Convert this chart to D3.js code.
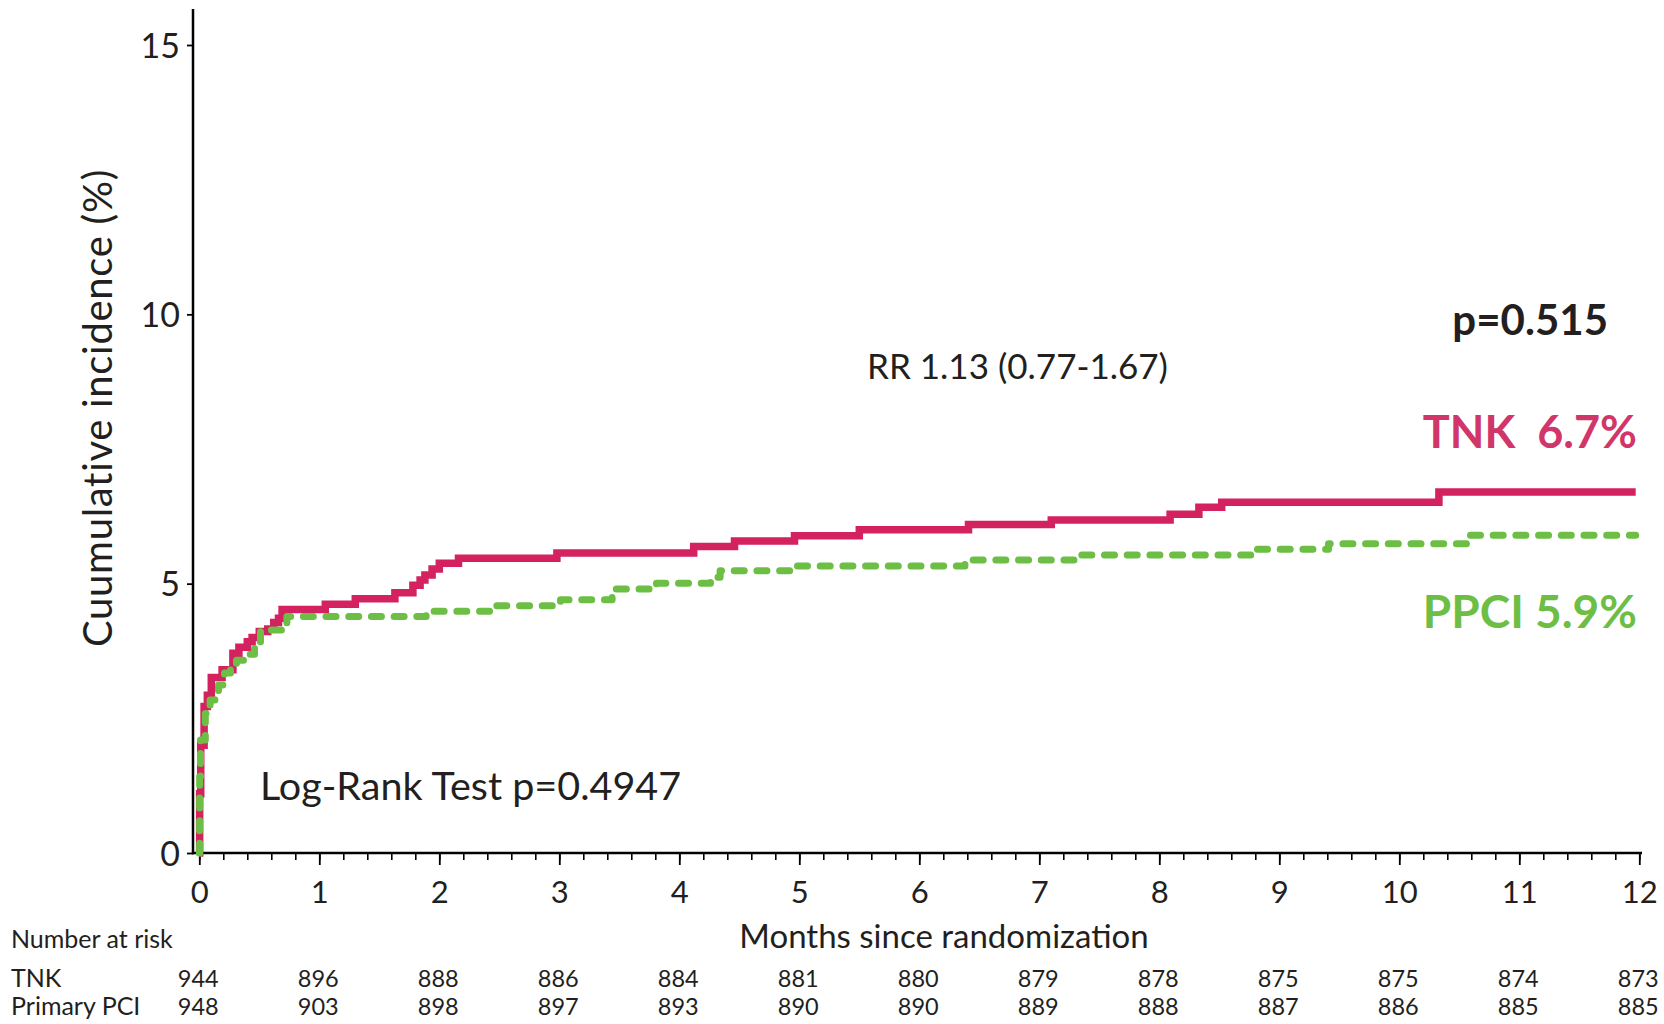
<!DOCTYPE html>
<html>
<head>
<meta charset="utf-8">
<script src="https://cdn.jsdelivr.net/npm/d3@7"></script>
<style>
  html, body { margin: 0; padding: 0; background: #fff; }
  svg { display: block; }
  text { font-family: Lato, "Open Sans", sans-serif; fill: #231f20; }
</style>
</head>
<body>
<svg id="chart" width="1664" height="1024"></svg>
<script>
// Kaplan-Meier style cumulative incidence (%), step changes at each event time (months)
const tnkTimes   = [0, 0.003, 0.012, 0.04, 0.067, 0.10, 0.19, 0.28, 0.33, 0.40, 0.44, 0.50, 0.57, 0.62, 0.66, 0.69,
                    1.05, 1.30, 1.63, 1.78, 1.84, 1.88, 1.94, 2.00, 2.16, 2.98, 4.12, 4.46, 4.96, 5.50, 6.41,
                    7.10, 8.09, 8.33, 8.52, 10.33, 11.97];
const tnkValues  = [0, 1.10, 2.00, 2.72, 2.93, 3.26, 3.40, 3.71, 3.82, 3.92, 4.00, 4.11, 4.16, 4.28, 4.36, 4.52,
                    4.62, 4.72, 4.83, 4.97, 5.07, 5.16, 5.27, 5.38, 5.47, 5.57, 5.69, 5.79, 5.89, 6.00, 6.10,
                    6.18, 6.29, 6.42, 6.51, 6.70, 6.70];

const ppciTimes  = [0, 0.003, 0.01, 0.05, 0.09, 0.13, 0.16, 0.21, 0.26, 0.31, 0.41, 0.46, 0.51, 0.73,
                    1.89, 2.44, 3.01, 3.44, 3.81, 4.26, 4.34, 4.94, 6.38, 7.30, 8.81, 9.41, 10.56, 11.97];
const ppciValues = [0, 1.42, 2.10, 2.59, 2.84, 2.97, 3.12, 3.34, 3.46, 3.58, 3.69, 3.90, 4.14, 4.39,
                    4.49, 4.59, 4.70, 4.90, 5.01, 5.12, 5.24, 5.33, 5.44, 5.53, 5.64, 5.74, 5.90, 5.90];

// Axis ticks
const monthTicks = [0, 1, 2, 3, 4, 5, 6, 7, 8, 9, 10, 11, 12];
const minorStep  = 0.2;
const yTicks     = [0, 5, 10, 15];

// Number at risk at each month tick
const riskTNK  = [944, 896, 888, 886, 884, 881, 880, 879, 878, 875, 875, 874, 873];
const riskPPCI = [948, 903, 898, 897, 893, 890, 890, 889, 888, 887, 886, 885, 885];

// Annotations
const rrText      = "RR 1.13 (0.77-1.67)";
const logRankText = "Log-Rank Test p=0.4947";
const pText       = "p=0.515";

const RED = "#d42160", RED_TXT = "#d1366a", GREEN = "#6dbe45";

const svg = d3.select("#chart");
const x = d3.scaleLinear().domain([0, 12]).range([199.3, 1639.3]);
const y = d3.scaleLinear().domain([0, 15]).range([853, 45]);

// ---- axes ----
const AX_X = 193;
svg.append("line").attr("x1", AX_X).attr("x2", AX_X).attr("y1", 9).attr("y2", 854.3)
  .attr("stroke", "#000").attr("stroke-width", 2.5);
svg.append("line").attr("x1", AX_X - 1.2).attr("x2", 1642).attr("y1", 853).attr("y2", 853)
  .attr("stroke", "#000").attr("stroke-width", 2.5);

const minorTicks = d3.range(0, 12 + 1e-9, minorStep);
const gMinor = svg.append("g").attr("transform", "translate(0,853)")
  .call(d3.axisBottom(x).tickValues(minorTicks).tickSize(7).tickSizeOuter(0).tickFormat(""));
gMinor.select(".domain").remove();
gMinor.selectAll("line").attr("stroke", "#000").attr("stroke-width", 1.6);

const gX = svg.append("g").attr("transform", "translate(0,853)")
  .call(d3.axisBottom(x).tickValues(monthTicks).tickSize(12).tickSizeOuter(0).tickFormat(d3.format("d")));
gX.select(".domain").remove();
gX.selectAll("line").attr("stroke", "#000").attr("stroke-width", 1.8);
gX.selectAll("text").attr("y", 50).attr("dy", 0)
  .style("font-size", "31px").style("fill", "#231f20").style("font-family", "Lato, sans-serif");

const gY = svg.append("g").attr("transform", `translate(${AX_X},0)`)
  .call(d3.axisLeft(y).tickValues(yTicks).tickSize(6).tickPadding(7).tickSizeOuter(0));
gY.select(".domain").remove();
gY.selectAll("line").attr("stroke", "#000").attr("stroke-width", 1.8);
gY.selectAll("text").attr("dy", "0.36em")
  .style("font-size", "34px").style("fill", "#231f20").style("font-family", "Lato, sans-serif");

// ---- axis titles ----
svg.append("text")
  .attr("transform", "translate(112,408) rotate(-90)")
  .attr("text-anchor", "middle")
  .style("font-size", "40px")
  .style("letter-spacing", "0.7px")
  .text("Cuumulative incidence (%)");

svg.append("text")
  .attr("x", 944).attr("y", 948)
  .attr("text-anchor", "middle")
  .style("font-size", "33px")
  .text("Months since randomization");

// ---- curves ----
const line = d3.line()
  .x(d => x(d[0]))
  .y(d => y(d[1]))
  .curve(d3.curveStepAfter);

const tnkData  = tnkTimes.map((t, i) => [t, tnkValues[i]]);
const ppciData = ppciTimes.map((t, i) => [t, ppciValues[i]]);

svg.append("path")
  .datum(tnkData)
  .attr("d", line)
  .attr("fill", "none")
  .attr("stroke", RED)
  .attr("stroke-width", 7.5)
  .attr("stroke-linejoin", "miter");

svg.append("path")
  .datum(ppciData)
  .attr("d", line)
  .attr("fill", "none")
  .attr("stroke", GREEN)
  .attr("stroke-width", 7)
  .attr("stroke-linecap", "round")
  .attr("stroke-linejoin", "round")
  .attr("stroke-dasharray", "10,12.7");

// ---- annotations ----
svg.append("text").attr("x", 867).attr("y", 379)
  .style("font-size", "35px").text(rrText);

svg.append("text").attr("x", 260).attr("y", 800)
  .style("font-size", "39.5px").text(logRankText);

svg.append("text").attr("x", 1608).attr("y", 335)
  .attr("text-anchor", "end")
  .style("font-size", "42px").style("font-weight", 700)
  .text(pText);

const fmtPct = v => v.toFixed(1) + "%";
svg.append("text").attr("x", 1637).attr("y", 448)
  .attr("text-anchor", "end")
  .style("font-size", "45px").style("font-weight", 700).style("fill", RED_TXT)
  .attr("xml:space", "preserve")
  .text("TNK  " + fmtPct(tnkValues[tnkValues.length - 1]));

svg.append("text").attr("x", 1637).attr("y", 628)
  .attr("text-anchor", "end")
  .style("font-size", "46px").style("font-weight", 700).style("fill", GREEN)
  .text("PPCI " + fmtPct(ppciValues[ppciValues.length - 1]));

// ---- number at risk table ----
svg.append("text").attr("x", 11).attr("y", 948)
  .style("font-size", "25px").text("Number at risk");

const rows = [
  { label: "TNK", values: riskTNK, y: 987 },
  { label: "Primary PCI", values: riskPPCI, y: 1015 }
];
rows.forEach(r => {
  svg.append("text").attr("x", 11).attr("y", r.y)
    .style("font-size", "25px").text(r.label);
  svg.append("g").selectAll("text")
    .data(r.values)
    .join("text")
    .attr("x", (d, i) => x(monthTicks[i]) - 1)
    .attr("y", r.y)
    .attr("text-anchor", "middle")
    .style("font-size", "23.5px")
    .text(d => d);
});
</script>
</body>
</html>
